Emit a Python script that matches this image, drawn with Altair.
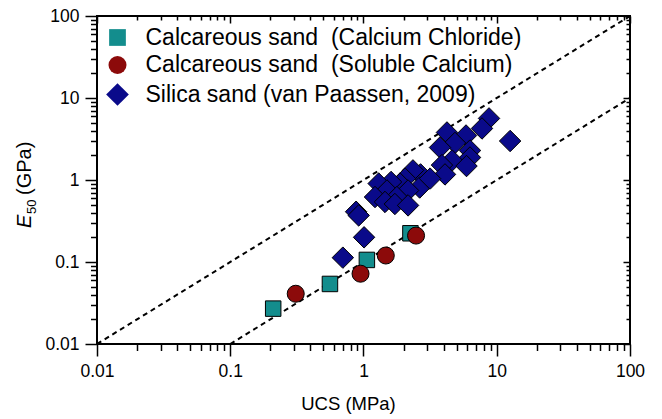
import altair as alt
import pandas as pd

# ---------------- data ----------------
SERIES = [
    "Calcareous sand \u00a0(Calcium Chloride)",
    "Calcareous sand \u00a0(Soluble Calcium)",
    "Silica sand (van Paassen, 2009)",
]
COLORS = ["#138d8d", "#8c0a0a", "#0a0a8a"]
SHAPES = ["square", "circle", "diamond"]
MARK_SIZES = [240, 290, 460]

CC_UCS = [0.21, 0.56, 1.06, 2.25]
CC_E = [0.027, 0.054, 0.106, 0.224]

SC_UCS = [0.31, 0.95, 1.47, 2.48]
SC_E = [0.041, 0.072, 0.12, 0.21]

SILICA_UCS = [8.75, 7.75, 12.6, 4.23, 5.88, 4.86, 3.75, 6.3, 6.3, 4.62, 3.88,
              5.93, 4.09, 2.68, 2.35, 2.05, 1.88, 1.61, 1.30, 2.64, 2.16, 1.50,
              1.78, 1.22, 1.45, 1.72, 2.16, 0.88, 0.92, 1.01, 0.70, 3.16]
SILICA_E = [5.64, 4.25, 2.99, 3.80, 3.49, 2.83, 2.49, 2.29, 1.88, 1.73, 1.52,
            1.48, 1.17, 1.17, 1.31, 1.04, 0.905, 0.946, 0.905, 0.81, 0.745, 0.745,
            0.62, 0.62, 0.54, 0.51, 0.49, 0.41, 0.37, 0.20, 0.113, 1.04]

LINE_ID = ["upper", "upper", "lower", "lower"]
LINE_UCS = [0.01, 100, 0.1, 100]
LINE_E = [0.01, 100, 0.01, 10]

MAJOR_TICKS = [0.01, 0.1, 1, 10, 100]
MINOR_TICKS = [m * d for d in [0.01, 0.1, 1, 10] for m in range(2, 10)]

X_TITLE = "UCS (MPa)"
Y_TITLE_PARTS = ["E", "50", "(GPa)"]

FONT = "Liberation Sans"

# ---------------- tables ----------------
pts = pd.concat([
    pd.DataFrame({"ucs": SILICA_UCS, "e": SILICA_E, "series": SERIES[2], "sz": MARK_SIZES[2]}),
    pd.DataFrame({"ucs": CC_UCS, "e": CC_E, "series": SERIES[0], "sz": MARK_SIZES[0]}),
    pd.DataFrame({"ucs": SC_UCS, "e": SC_E, "series": SERIES[1], "sz": MARK_SIZES[1]}),
], ignore_index=True)
lines = pd.DataFrame({"id": LINE_ID, "ucs": LINE_UCS, "e": LINE_E})

xs = alt.Scale(type="log", domain=[0.01, 100], nice=False)
ys = alt.Scale(type="log", domain=[0.01, 100], nice=False)

common = dict(grid=False, domain=False, tickColor="black", tickWidth=1.5,
              labelFont=FONT, labelColor="black")

bottom_major = alt.Axis(orient="bottom", values=MAJOR_TICKS, format="~g", tickSize=12,
                        labelFontSize=17.5, labelPadding=6, labelFlush=False,
                        labelOverlap=False, title=X_TITLE, titleFont=FONT,
                        titleFontSize=18.5, titleFontWeight="normal", titleColor="black",
                        titleX=251, titleY=65, titleBaseline="alphabetic", **common)
left_major = alt.Axis(orient="left", values=MAJOR_TICKS, format="~g", tickSize=12,
                      labelFontSize=17.5, labelPadding=6, labelFlush=False,
                      labelOverlap=False, title=None, **common)
bottom_minor = alt.Axis(orient="bottom", values=MINOR_TICKS, tickSize=6.5, labels=False,
                        title=None, **common)
left_minor = alt.Axis(orient="left", values=MINOR_TICKS, tickSize=6.5, labels=False,
                      title=None, **common)
top_major = alt.Axis(orient="top", values=MAJOR_TICKS, tickSize=7, offset=-7,
                     labels=False, title=None, **common)
right_major = alt.Axis(orient="right", values=MAJOR_TICKS, tickSize=7, offset=-7,
                       labels=False, title=None, **common)
top_minor = alt.Axis(orient="top", values=MINOR_TICKS, tickSize=4, offset=-4,
                     labels=False, title=None, **common)
right_minor = alt.Axis(orient="right", values=MINOR_TICKS, tickSize=4, offset=-4,
                       labels=False, title=None, **common)

legend_size_expr = (
    "datum && datum.value && indexof(datum.value, 'Silica') >= 0 ? 515 : "
    "(datum && datum.value && indexof(datum.value, 'Soluble') >= 0 ? 324 : 280)"
)
legend = alt.Legend(title=None, orient="none", legendX=9, legendY=10,
                    labelFont=FONT, labelFontSize=23, labelColor="black",
                    labelOffset=16.5, rowPadding=3.5, labelLimit=600,
                    symbolSize={"expr": legend_size_expr},
                    symbolStrokeColor="black", symbolStrokeWidth=1, symbolOpacity=1)

line_layer = alt.Chart(lines).mark_line(
    color="black", strokeWidth=2, strokeDash=[5, 4], clip=True
).encode(
    x=alt.X("ucs:Q", scale=xs, axis=bottom_major),
    y=alt.Y("e:Q", scale=ys, axis=left_major),
    detail="id:N",
)

point_layer = alt.Chart(pts).mark_point(
    filled=True, opacity=1, stroke="black", strokeWidth=1
).encode(
    x=alt.X("ucs:Q", scale=xs, axis=bottom_minor),
    y=alt.Y("e:Q", scale=ys, axis=left_minor),
    color=alt.Color("series:N", scale=alt.Scale(domain=SERIES, range=COLORS), legend=legend),
    shape=alt.Shape("series:N", scale=alt.Scale(domain=SERIES, range=SHAPES), legend=legend),
    size=alt.Size("sz:Q", scale=None, legend=None),
)

frame_major = alt.Chart(lines).mark_point(opacity=0).encode(
    x=alt.X("ucs:Q", scale=xs, axis=top_major),
    y=alt.Y("e:Q", scale=ys, axis=right_major),
)
frame_minor = alt.Chart(lines).mark_point(opacity=0).encode(
    x=alt.X("ucs:Q", scale=xs, axis=top_minor),
    y=alt.Y("e:Q", scale=ys, axis=right_minor),
)

one = alt.Data(values=[{}])
t_e = alt.Chart(one).mark_text(
    text=Y_TITLE_PARTS[0], font=FONT, fontSize=20, fontStyle="italic", angle=270,
    align="left", baseline="alphabetic", color="black"
).encode(x=alt.value(-66), y=alt.value(212))
t_sub = alt.Chart(one).mark_text(
    text=Y_TITLE_PARTS[1], font=FONT, fontSize=13, angle=270,
    align="left", baseline="alphabetic", color="black"
).encode(x=alt.value(-61), y=alt.value(198))
t_unit = alt.Chart(one).mark_text(
    text=Y_TITLE_PARTS[2], font=FONT, fontSize=20, angle=270,
    align="left", baseline="alphabetic", color="black"
).encode(x=alt.value(-66), y=alt.value(179))

chart = alt.layer(
    frame_major, frame_minor, line_layer, point_layer, t_e, t_sub, t_unit
).resolve_axis(
    x="independent", y="independent"
).properties(
    width=533, height=328, autosize="none",
    padding={"left": 97, "top": 16, "right": 32, "bottom": 75},
    background="white",
).configure_view(stroke="black", strokeWidth=2)

chart.save("out.html", embed_options={"renderer": "svg", "actions": False})
